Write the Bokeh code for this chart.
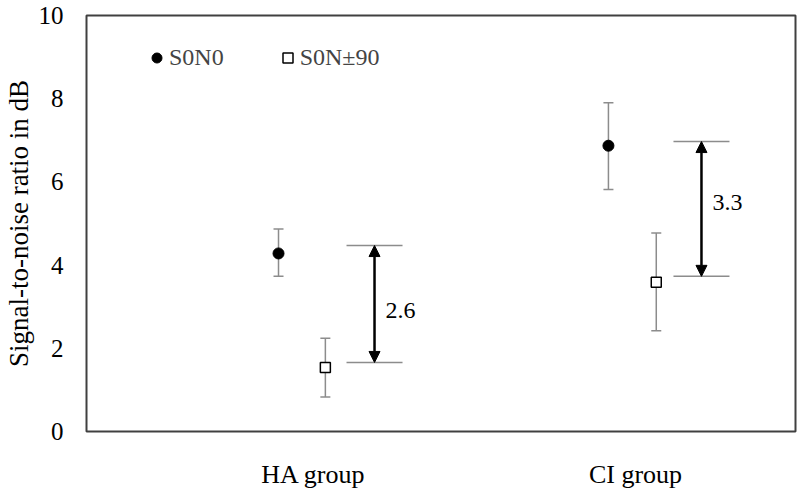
from bokeh.plotting import figure
from bokeh.models import (ColumnDataSource, Whisker, TeeHead, Arrow, NormalHead, Legend,
                          LegendItem, FixedTicker, Range1d)
from bokeh.embed import file_html
from bokeh.resources import INLINE
from bokeh.core.properties import value

# ---- data ----
groups = ["HA group", "CI group"]
group_x = [1.106, 2.082]

s0n0_x = [1.0, 2.0]
s0n0_mean = [4.28, 6.87]
s0n0_upper = [4.87, 7.90]
s0n0_lower = [3.73, 5.82]

s0n90_x = [1.142, 2.145]
s0n90_mean = [1.54, 3.59]
s0n90_upper = [2.24, 4.77]
s0n90_lower = [0.83, 2.42]

diff_x = [1.291, 2.282]
diff_top = [4.47, 6.97]
diff_bottom = [1.66, 3.73]
diff_labels = ["2.6", "3.3"]
diff_label_y = [2.9, 5.5]

y_ticks = [0, 2, 4, 6, 8, 10]

FONT = "Liberation Serif"
GRAY = "#8c8c8c"

p = figure(frame_width=709, frame_height=416,
           x_range=Range1d(0.418, 2.567), y_range=Range1d(0, 10),
           output_backend="svg", toolbar_location=None, title=None,
           min_border_left=81, min_border_right=2, min_border_top=15, min_border_bottom=0)
p.background_fill_color = "white"
p.border_fill_color = "white"
p.outline_line_color = "#404040"
p.outline_line_width = 2
p.xgrid.visible = False
p.ygrid.visible = False

src1 = ColumnDataSource(dict(x=s0n0_x, y=s0n0_mean, upper=s0n0_upper, lower=s0n0_lower))
src2 = ColumnDataSource(dict(x=s0n90_x, y=s0n90_mean, upper=s0n90_upper, lower=s0n90_lower))

for src in (src1, src2):
    w = Whisker(base="x", upper="upper", lower="lower", source=src,
                line_color=GRAY, line_width=1.5, level="underlay",
                upper_head=TeeHead(size=10, line_color=GRAY, line_width=1.5),
                lower_head=TeeHead(size=10, line_color=GRAY, line_width=1.5))
    p.add_layout(w)

r1 = p.scatter("x", "y", source=src1, marker="circle", size=11,
               fill_color="black", line_color="black")
r2 = p.scatter("x", "y", source=src2, marker="square", size=10,
               fill_color="white", line_color="black", line_width=1.5)

# difference brackets
dsrc = ColumnDataSource(dict(x=diff_x, top=diff_top, bottom=diff_bottom,
                             ly=diff_label_y, label=diff_labels))
p.scatter("x", "top", source=dsrc, marker="dash", size=56, line_color=GRAY, line_width=1.5)
p.scatter("x", "bottom", source=dsrc, marker="dash", size=56, line_color=GRAY, line_width=1.5)
p.add_layout(Arrow(x_start="x", y_start="bottom", x_end="x", y_end="top", source=dsrc,
                   line_color="black", line_width=2.5,
                   start=NormalHead(size=11, fill_color="black", line_color="black"),
                   end=NormalHead(size=11, fill_color="black", line_color="black")))
p.text("x", "ly", text="label", source=dsrc, x_offset=11, text_baseline="middle",
       text_align="left", text_font=value(FONT), text_font_size="24px", text_color="black")

# axes
p.yaxis.ticker = FixedTicker(ticks=y_ticks)
p.yaxis.axis_label = "Signal-to-noise ratio in dB"
p.yaxis.axis_label_text_font = FONT
p.yaxis.axis_label_text_font_style = "normal"
p.yaxis.axis_label_text_font_size = "27px"
p.yaxis.axis_label_text_color = "black"
p.yaxis.axis_label_standoff = 2
p.yaxis.major_label_text_font = FONT
p.yaxis.major_label_text_font_size = "25px"
p.yaxis.major_label_text_color = "black"
p.yaxis.major_label_standoff = 23

p.xaxis.ticker = FixedTicker(ticks=group_x)
p.xaxis.major_label_overrides = {gx: g for gx, g in zip(group_x, groups)}
p.xaxis.major_label_text_font = FONT
p.xaxis.major_label_text_font_size = "26px"
p.xaxis.major_label_text_color = "black"
p.xaxis.major_label_standoff = 28

for ax in (p.xaxis, p.yaxis):
    ax.axis_line_color = None
    ax.major_tick_line_color = None
    ax.minor_tick_line_color = None
    ax.major_tick_out = 0
    ax.major_tick_in = 0

legend = Legend(items=[LegendItem(label="S0N0", renderers=[r1]),
                       LegendItem(label="S0N\u00b190", renderers=[r2])],
                orientation="horizontal", location=(58, 360),
                label_text_font=FONT, label_text_font_size="24px",
                glyph_width=25, glyph_height=25, label_standoff=0, spacing=51,
                padding=0, margin=0, border_line_color=None, background_fill_alpha=0)
p.add_layout(legend)

open("out.html", "w").write(file_html(p, INLINE))
